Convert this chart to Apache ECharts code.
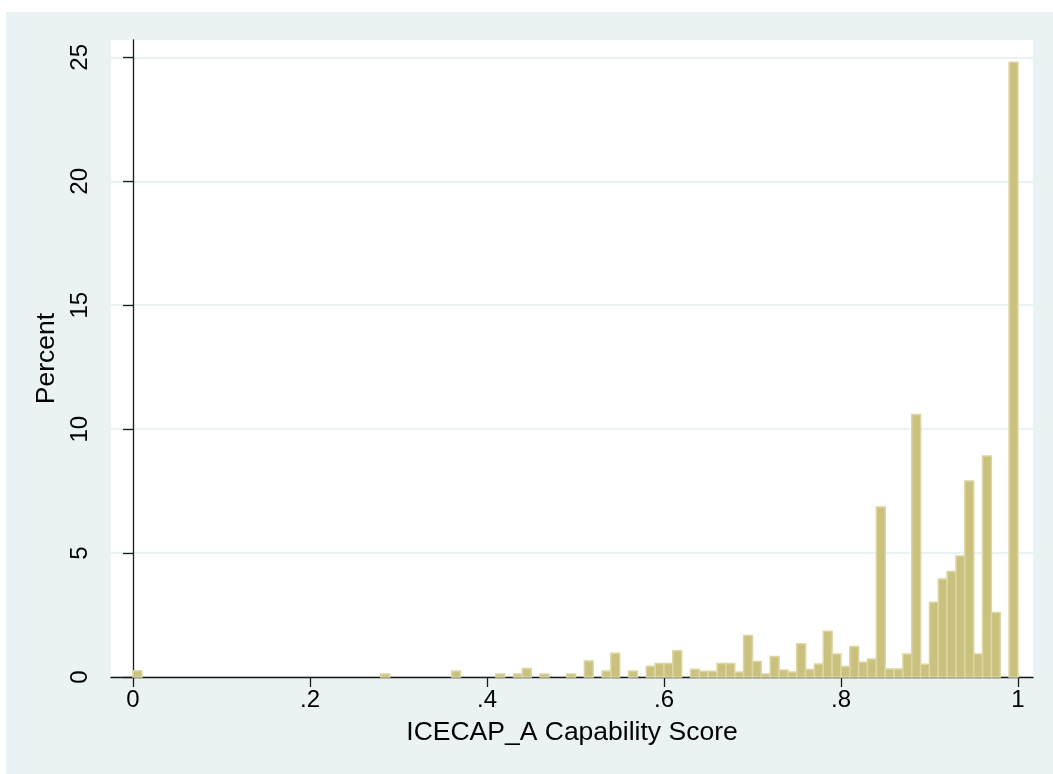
<!DOCTYPE html>
<html>
<head>
<meta charset="utf-8">
<script src="https://cdn.jsdelivr.net/npm/echarts@6/dist/echarts.min.js"></script>
<style>
html,body{margin:0;padding:0;background:#ffffff;}
#bg{position:absolute;left:6px;top:12px;right:0;bottom:0;background:#EAF2F3;}
#chart{position:absolute;left:0;top:0;width:1053px;height:774px;}
</style>
</head>
<body>
<div id="bg"></div>
<div id="chart"></div>
<script>
// Histogram bins (lower edge of each non-empty bin), bin width 0.01
const binStart = [0.00, 0.28, 0.36, 0.41, 0.43, 0.44, 0.46, 0.49, 0.51, 0.53,
  0.54, 0.56, 0.58, 0.59, 0.60, 0.61, 0.63, 0.64, 0.65, 0.66,
  0.67, 0.68, 0.69, 0.70, 0.71, 0.72, 0.73, 0.74, 0.75, 0.76,
  0.77, 0.78, 0.79, 0.80, 0.81, 0.82, 0.83, 0.84, 0.85, 0.86,
  0.87, 0.88, 0.89, 0.90, 0.91, 0.92, 0.93, 0.94, 0.95, 0.96,
  0.97, 0.99];
const percent = [0.25, 0.12, 0.24, 0.12, 0.12, 0.34, 0.12, 0.12, 0.65, 0.24,
  0.96, 0.24, 0.43, 0.54, 0.54, 1.06, 0.31, 0.23, 0.23, 0.54,
  0.54, 0.20, 1.67, 0.63, 0.12, 0.83, 0.28, 0.20, 1.34, 0.30,
  0.52, 1.85, 0.93, 0.42, 1.23, 0.60, 0.73, 6.86, 0.32, 0.32,
  0.93, 10.59, 0.51, 3.02, 3.95, 4.26, 4.88, 7.91, 0.93, 8.92,
  2.60, 24.80];
const BIN_WIDTH = 0.01;
const xTicks = [0, 0.2, 0.4, 0.6, 0.8, 1];
const xTickLabels = ['0', '.2', '.4', '.6', '.8', '1'];
const yTicks = [0, 5, 10, 15, 20, 25];

const chart = echarts.init(document.getElementById('chart'), null, {renderer: 'canvas'});
const FONT = 'Liberation Sans, Arial, Helvetica, sans-serif';

const option = {
  backgroundColor: 'transparent',
  animation: false,
  grid: {left: 111, top: 40, right: 20, bottom: 97, show: true, backgroundColor: '#ffffff', borderWidth: 0},
  xAxis: {
    type: 'value',
    min: -0.0249,
    max: 1.017,
    name: 'ICECAP_A Capability Score',
    nameLocation: 'middle',
    nameGap: 42,
    nameTextStyle: {fontFamily: FONT, fontSize: 26.5, color: '#000'},
    axisLine: {show: true, onZero: false, lineStyle: {color: '#1a1a1a', width: 1.3}},
    axisTick: {show: true, length: 10, customValues: xTicks, lineStyle: {color: '#1a1a1a', width: 1.3}},
    axisLabel: {
      customValues: xTicks, margin: 11, fontFamily: FONT, fontSize: 24, color: '#000',
      formatter: function (v) { const i = xTicks.findIndex(t => Math.abs(t - v) < 1e-9); return i >= 0 ? xTickLabels[i] : ''; }
    },
    splitLine: {show: false}
  },
  yAxis: {
    type: 'value',
    min: 0,
    max: 25.7,
    interval: 5,
    name: 'Percent',
    nameLocation: 'middle',
    nameGap: 40,
    nameRotate: 90,
    nameTextStyle: {fontFamily: FONT, fontSize: 26.5, color: '#000'},
    axisLine: {show: true, lineStyle: {color: '#1a1a1a', width: 1.3}},
    axisTick: {show: true, length: 10, customValues: yTicks, lineStyle: {color: '#1a1a1a', width: 1.3}},
    axisLabel: {customValues: yTicks, rotate: 90, margin: 19, fontFamily: FONT, fontSize: 24, color: '#000', showMaxLabel: true},
    splitLine: {show: true, lineStyle: {color: '#EAF2F3', width: 2}}
  },
  series: [{
    type: 'custom',
    data: binStart.map((s, i) => [s, percent[i]]),
    encode: {x: 0, y: 1},
    renderItem: function (params, api) {
      const lo = api.value(0);
      const v = api.value(1);
      const p0 = api.coord([lo, 0]);
      const p1 = api.coord([lo + BIN_WIDTH, v]);
      return {
        type: 'rect',
        shape: {x: p0[0], y: p1[1], width: p1[0] - p0[0], height: p0[1] - p1[1]},
        style: {fill: '#C9C17D', stroke: '#DCD6A2', lineWidth: 1.5}
      };
    },
    z: 3
  }]
};
chart.setOption(option);
</script>
</body>
</html>
